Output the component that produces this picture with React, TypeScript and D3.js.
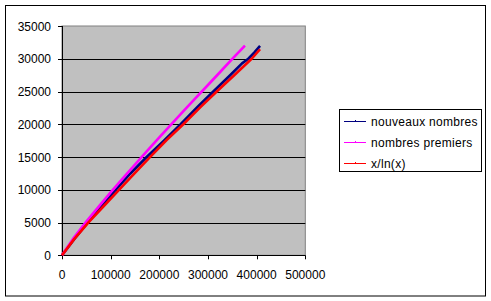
import React from "react";
import * as d3 from "d3";

// Data
const nouveauxX = [0, 25000, 50000, 80000, 110300, 140000, 174000, 210000, 243900, 280000, 311000, 345000, 370000, 382900, 395000, 407000];
const nouveauxY = [0, 2450, 4750, 7350, 10000, 12450, 15000, 17550, 20000, 22750, 25000, 27450, 29300, 30000, 30950, 31950];

const premiersX = [0, 25000, 50000, 75000, 100000, 125000, 150000, 175000, 200000, 225000, 250000, 275000, 300000, 325000, 350000, 376000];
const premiersY = [0, 2760, 5133, 7393, 9592, 11734, 13848, 15930, 17984, 20020, 22044, 24030, 25997, 27980, 29977, 32000];

const xlnX = [0, 25000, 54000, 85000, 117100, 150000, 180800, 215000, 249300, 285000, 318000, 355000, 389800, 407000];
const xlnY = [0, 2470, 5000, 7450, 10000, 12580, 15000, 17600, 20000, 22650, 25000, 27550, 30000, 31450];

const xTicks = [0, 100000, 200000, 300000, 400000, 500000];
const yTicks = [0, 5000, 10000, 15000, 20000, 25000, 30000, 35000];

const seriesNames = ["nouveaux nombres", "nombres premiers", "x/ln(x)"];
const seriesColors = ["#000080", "#FF00FF", "#FF0000"];

export default function App() {
  const W = 491, H = 301;
  const x = d3.scaleLinear().domain([0, 500000]).range([62, 305.3]);
  const y = d3.scaleLinear().domain([0, 35000]).range([255.3, 26]);
  const font = "Arial, 'Liberation Sans', sans-serif";

  const mk = (xs: number[], ys: number[]) =>
    d3.line<number>().x((_, i) => x(xs[i])).y((_, i) => y(ys[i]))(xs) || "";

  const series = [
    { xs: nouveauxX, ys: nouveauxY },
    { xs: premiersX, ys: premiersY },
    { xs: xlnX, ys: xlnY },
  ];

  const left = x(0), right = x(500000), top = y(35000), bottom = y(0);
  const legendRows = [121, 142, 163];

  return (
    <svg width={W} height={H} style={{ position: "absolute", left: 0, top: 0, background: "#fff" }}>
      <rect x={0} y={0} width={W} height={H} fill="#fff" />
      <rect x={5.5} y={5.5} width={480} height={290.5} fill="none" stroke="#000" strokeWidth={1} />
      {/* plot area */}
      <rect x={left} y={top} width={right - left} height={bottom - top} fill="#C0C0C0" stroke="#808080" strokeWidth={1} />
      {/* grid */}
      {yTicks.filter((t) => t > 0 && t < 35000).map((t) => (
        <line key={"g" + t} x1={left} x2={right} y1={Math.round(y(t)) + 0.5} y2={Math.round(y(t)) + 0.5} stroke="#000" strokeWidth={1} />
      ))}
      {/* axes */}
      <line x1={Math.round(left) + 0.5} x2={Math.round(left) + 0.5} y1={top} y2={bottom} stroke="#000" />
      <line x1={left} x2={right} y1={Math.round(bottom) + 0.5} y2={Math.round(bottom) + 0.5} stroke="#000" />
      {yTicks.map((t) => (
        <g key={"y" + t}>
          <line x1={left - 4} x2={left} y1={Math.round(y(t)) + 0.5} y2={Math.round(y(t)) + 0.5} stroke="#000" />
          <text x={51} y={y(t) + 4.5} textAnchor="end" fontFamily={font} fontSize={12} fill="#000">{t}</text>
        </g>
      ))}
      {xTicks.map((t) => (
        <g key={"x" + t}>
          <line x1={Math.round(x(t)) + 0.5} x2={Math.round(x(t)) + 0.5} y1={bottom} y2={bottom + 4} stroke="#000" />
          <text x={x(t)} y={279} textAnchor="middle" fontFamily={font} fontSize={12} fill="#000">{t}</text>
        </g>
      ))}
      {/* series */}
      {series.map((s, i) => (
        <path key={"s" + i} d={mk(s.xs, s.ys)} fill="none" stroke={seriesColors[i]} strokeWidth={2.6} strokeLinejoin="round" />
      ))}
      {/* legend */}
      <rect x={339.5} y={109.5} width={142} height={62} fill="#fff" stroke="#000" strokeWidth={1} />
      {seriesNames.map((n, i) => (
        <g key={"l" + i}>
          <line x1={344} x2={366} y1={legendRows[i] + 0.5} y2={legendRows[i] + 0.5} stroke={seriesColors[i]} strokeWidth={1} />
          <line x1={355.5} x2={355.5} y1={legendRows[i] - 1} y2={legendRows[i] + 1} stroke={seriesColors[i]} strokeWidth={1} />
          <text x={371} y={legendRows[i] + 4.5} fontFamily={font} fontSize={12} letterSpacing={0.3} fill="#000">{n}</text>
        </g>
      ))}
    </svg>
  );
}
